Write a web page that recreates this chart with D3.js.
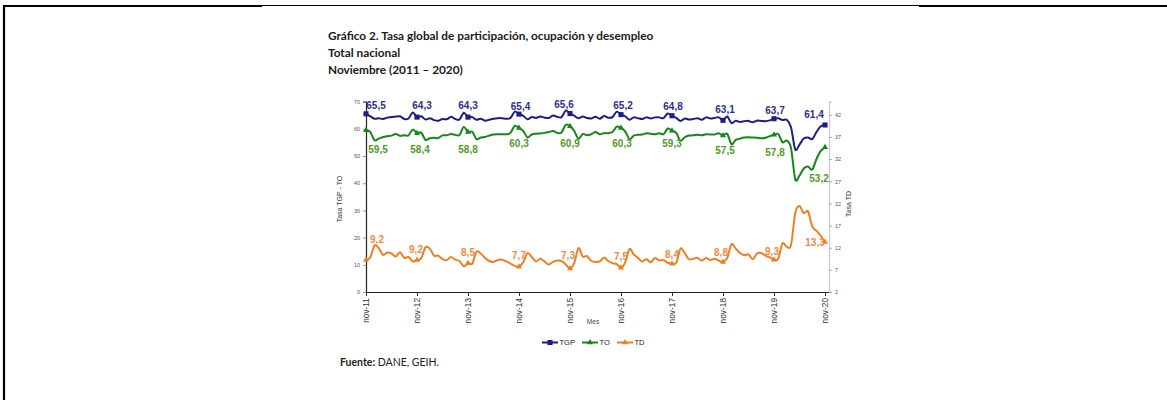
<!DOCTYPE html>
<html>
<head>
<meta charset="utf-8">
<script src="https://cdn.jsdelivr.net/npm/d3@7"></script>
<style>
  body { margin: 0; background: #fff; }
  svg { display: block; }
</style>
</head>
<body>
<svg id="chart" width="1167" height="400"></svg>
<script>
// monthly series, nov-2011 .. nov-2020 (109 months)
const tgp = [
  65.5, 64.6,
  63.7, 63.9, 63.6, 64.1, 64.3, 64.5, 64.6, 63.6, 63.8, 66.0, 64.3, 64.6,
  63.4, 63.9, 63.2, 63.0, 63.6, 63.5, 64.4, 63.6, 63.4, 65.9, 64.3, 64.3,
  63.3, 63.7, 63.0, 63.3, 63.7, 63.9, 63.9, 63.7, 64.0, 66.3, 65.4, 64.8,
  63.5, 64.3, 64.0, 64.5, 64.1, 64.0, 64.9, 64.4, 64.3, 66.7, 65.6, 64.8,
  63.9, 64.5, 64.0, 63.8, 64.4, 63.7, 64.7, 64.1, 64.3, 66.3, 65.2, 64.6,
  63.3, 64.2, 63.9, 63.6, 64.2, 63.8, 64.2, 64.2, 63.9, 65.6, 64.8, 64.0,
  62.9, 63.8, 63.4, 63.6, 63.9, 63.3, 64.2, 63.8, 64.0, 64.2, 63.1, 64.5,
  62.1, 63.0, 62.5, 62.8, 62.9, 62.4, 63.0, 62.9, 62.8, 63.1, 63.7, 63.9,
  63.2, 63.3, 60.6, 52.4, 54.2, 56.4, 56.8, 56.2, 58.8, 60.9, 61.4
];
const to = [
  59.5, 58.9,
  55.8, 56.4, 57.0, 57.3, 57.5, 58.1, 57.4, 57.6, 57.6, 59.7, 58.4, 58.6,
  55.9, 56.5, 56.7, 56.6, 57.6, 57.6, 58.1, 57.8, 57.7, 60.7, 58.8, 58.9,
  56.2, 56.8, 57.0, 57.5, 57.9, 58.0, 58.0, 58.0, 58.5, 61.1, 60.3, 59.2,
  56.8, 57.9, 58.2, 58.3, 58.5, 58.8, 59.2, 58.5, 58.6, 61.5, 60.9, 59.2,
  56.3, 58.1, 57.6, 58.0, 58.8, 58.0, 58.4, 58.4, 58.8, 60.8, 60.3, 59.0,
  56.2, 57.5, 57.8, 57.9, 58.4, 58.2, 58.0, 58.4, 58.0, 60.1, 59.3, 58.5,
  55.6, 56.9, 57.5, 57.6, 57.8, 57.6, 58.0, 57.9, 57.9, 58.4, 57.5, 58.2,
  54.3, 55.9, 56.4, 56.8, 56.9, 56.8, 56.7, 56.5, 56.7, 57.3, 57.8, 58.1,
  55.0, 55.7, 53.0, 41.4, 42.8, 45.4, 46.1, 45.0, 48.9, 51.9, 53.2
];
const td = [
  9.2, 9.8,
  12.5, 11.9, 10.4, 10.9, 10.7, 10.0, 11.0, 9.7, 9.9, 8.9, 9.2, 9.6,
  12.1, 11.8, 10.2, 10.2, 9.4, 9.2, 9.9, 9.3, 9.0, 7.8, 8.5, 8.4,
  11.1, 10.7, 9.7, 9.0, 8.8, 9.2, 9.3, 8.9, 8.4, 7.9, 7.7, 8.7,
  10.8, 9.9, 8.9, 9.5, 8.9, 8.2, 8.8, 9.1, 9.0, 8.2, 7.3, 8.6,
  11.9, 10.0, 10.1, 9.0, 8.8, 8.9, 9.8, 9.0, 8.5, 8.3, 7.5, 8.7,
  11.7, 10.5, 9.7, 8.9, 9.4, 8.7, 9.7, 9.1, 9.2, 8.6, 8.4, 8.6,
  11.8, 10.8, 9.4, 9.5, 9.7, 9.1, 9.7, 9.2, 9.5, 9.1, 8.8, 9.7,
  12.8, 11.8, 10.8, 10.3, 10.5, 9.4, 10.7, 10.8, 10.2, 9.8, 9.3, 9.5,
  13.0, 12.2, 12.6, 19.8, 21.4, 19.8, 20.2, 16.8, 15.8, 14.7, 13.3
];
const xTickLabels = ['nov-11', 'nov-12', 'nov-13', 'nov-14', 'nov-15', 'nov-16', 'nov-17', 'nov-18', 'nov-19', 'nov-20'];
const leftTicks = [0, 10, 20, 30, 40, 50, 60, 70];
const rightTicks = [2, 7, 12, 17, 22, 27, 32, 37, 42];

// label nudges (px) for the november data labels
const tgpNudge = [[10, -8], [5, -12], [0, -11.5], [1.5, -8], [-6, -9.5], [2, -9], [1, -9], [2, -10.4], [1, -8.7], [-11, -10]];
const toNudge = [[12, 19], [3, 16], [0, 17], [0, 16], [0, 17], [1, 16], [0, 13], [2, 15], [1, 17.5], [-6, 31]];
const tdNudge = [[11, -21], [-1, -11], [0, -11], [0, -11], [-2, -13], [0, -11], [0, -9], [-2, -9], [-2, -8], [-10, 1]];

const C_TGP = '#1c1c8a', C_TO = '#16881a', C_TD = '#f07e22';
const L_TGP = '#2e2e96', L_TO = '#4f9c1e', L_TD = '#f7893c';

const svg = d3.select('#chart');
const months = d3.range(tgp.length);
const novIdx = months.filter(i => i % 12 === 0);

const x = d3.scaleLinear().domain([0, 108]).range([366, 825]);
const yL = d3.scaleLinear().domain([0, 70]).range([292, 101.6]);
const yR = d3.scaleLinear().domain([2, 45]).range([292, 101.6]);

// page frame
svg.append('line').attr('x1', 4).attr('x2', 4).attr('y1', 5).attr('y2', 400).attr('stroke', '#000').attr('stroke-width', 2.2);
svg.append('line').attr('x1', 3).attr('x2', 262).attr('y1', 6).attr('y2', 6).attr('stroke', '#000').attr('stroke-width', 2);
svg.append('line').attr('x1', 262).attr('x2', 919).attr('y1', 5.5).attr('y2', 5.5).attr('stroke', '#000').attr('stroke-width', 1);
svg.append('line').attr('x1', 919).attr('x2', 1167).attr('y1', 6).attr('y2', 6).attr('stroke', '#000').attr('stroke-width', 2);

// titles
const title = svg.append('g').attr('font-family', 'Lato, "Open Sans", sans-serif').attr('font-weight', 'bold').attr('font-size', 11.8).attr('fill', '#1a1a1a');
title.append('text').attr('x', 328).attr('y', 40).text('Gráfico 2. Tasa global de participación, ocupación y desempleo');
title.append('text').attr('x', 328).attr('y', 57).text('Total nacional');
title.append('text').attr('x', 328).attr('y', 73.5).text('Noviembre (2011 – 2020)');

// axes
const axisFont = 'Liberation Sans, Arial, sans-serif';
const gL = svg.append('g').attr('transform', 'translate(366,0)')
  .call(d3.axisLeft(yL).tickValues(leftTicks).tickSize(3).tickPadding(3));
gL.select('.domain').attr('stroke', '#222').attr('stroke-width', 1.2);
gL.selectAll('.tick line').attr('stroke', '#999');
gL.selectAll('text').attr('font-family', axisFont).attr('font-size', 5.5).attr('fill', '#555');

const gR = svg.append('g').attr('transform', 'translate(829,0)')
  .call(d3.axisRight(yR).tickValues(rightTicks).tickSize(3).tickPadding(3));
gR.select('.domain').attr('stroke', '#cfcfcf').attr('stroke-width', 1.4);
gR.selectAll('.tick line').attr('stroke', '#aaa');
gR.selectAll('text').attr('font-family', axisFont).attr('font-size', 5.5).attr('fill', '#555');

const gX = svg.append('g').attr('transform', 'translate(0,292)')
  .call(d3.axisBottom(x).tickValues(novIdx).tickSize(4).tickFormat((d, i) => xTickLabels[i]));
gX.select('.domain').attr('d', 'M366,0.5H829').attr('stroke', '#222').attr('stroke-width', 1.2);
gX.selectAll('.tick line').attr('stroke', '#333');
gX.selectAll('text')
  .attr('font-family', axisFont).attr('font-size', 8.3).attr('fill', '#333')
  .attr('text-anchor', 'end').attr('transform', 'rotate(-90)')
  .attr('x', -6).attr('y', 0).attr('dy', '0.35em');

// axis titles
svg.append('text').attr('transform', 'translate(342,199) rotate(-90)')
  .attr('text-anchor', 'middle').attr('font-family', axisFont).attr('font-size', 7).attr('fill', '#333')
  .text('Tasa TGP - TO');
svg.append('text').attr('transform', 'translate(851,204) rotate(-90)')
  .attr('text-anchor', 'middle').attr('font-family', axisFont).attr('font-size', 7).attr('fill', '#333')
  .text('Tasa TD');
svg.append('text').attr('x', 593).attr('y', 324).attr('text-anchor', 'middle')
  .attr('font-family', axisFont).attr('font-size', 6.5).attr('fill', '#444').text('Mes');

// series
const series = [
  { name: 'TGP', values: tgp, y: yL, color: C_TGP, label: L_TGP, nudge: tgpNudge, sym: d3.symbolSquare, size: 26 },
  { name: 'TO', values: to, y: yL, color: C_TO, label: L_TO, nudge: toNudge, sym: d3.symbolTriangle, size: 16 },
  { name: 'TD', values: td, y: yR, color: C_TD, label: L_TD, nudge: tdNudge, sym: d3.symbolTriangle, size: 16 }
];

const fmt = v => v.toFixed(1).replace('.', ',');

series.forEach(s => {
  const line = d3.line().x((d, i) => x(i)).y(d => s.y(d)).curve(d3.curveCardinal.tension(0.1));
  svg.append('path').datum(s.values)
    .attr('d', line).attr('fill', 'none')
    .attr('stroke', s.color).attr('stroke-width', 2).attr('stroke-linejoin', 'round');

  svg.append('g').selectAll('path').data(novIdx).join('path')
    .attr('transform', i => `translate(${x(i)},${s.y(s.values[i])})`)
    .attr('d', d3.symbol().type(s.sym).size(s.size))
    .attr('fill', s.color);

  svg.append('g').selectAll('text').data(novIdx).join('text')
    .attr('x', (i, k) => x(i) + s.nudge[k][0])
    .attr('y', (i, k) => s.y(s.values[i]) + s.nudge[k][1])
    .attr('dy', '0.35em')
    .attr('text-anchor', 'middle')
    .attr('font-family', '"Liberation Sans Narrow", "Arial Narrow", Arial, sans-serif')
    .attr('font-weight', 'bold').attr('font-size', 10)
    .attr('fill', s.label)
    .text(i => fmt(s.values[i]));
});

// legend
const legX = [542, 582, 617];
const leg = svg.append('g').selectAll('g').data(series).join('g')
  .attr('transform', (d, i) => `translate(${legX[i]},342.5)`);
leg.append('line').attr('x1', 0).attr('x2', 16).attr('stroke', d => d.color).attr('stroke-width', 2);
leg.append('path').attr('transform', 'translate(8,0)')
  .attr('d', d => d3.symbol().type(d.sym).size(d.size)()).attr('fill', d => d.color);
leg.append('text').attr('x', 17.5).attr('dy', '0.35em')
  .attr('font-family', axisFont).attr('font-size', 7.5).attr('fill', '#222')
  .text(d => d.name);

// source
const src = svg.append('text').attr('x', 340).attr('y', 366)
  .attr('font-family', 'Lato, "Open Sans", sans-serif').attr('font-size', 10.5).attr('fill', '#222');
src.append('tspan').attr('font-weight', 'bold').text('Fuente:');
src.append('tspan').text(' DANE, GEIH.');
</script>
</body>
</html>
